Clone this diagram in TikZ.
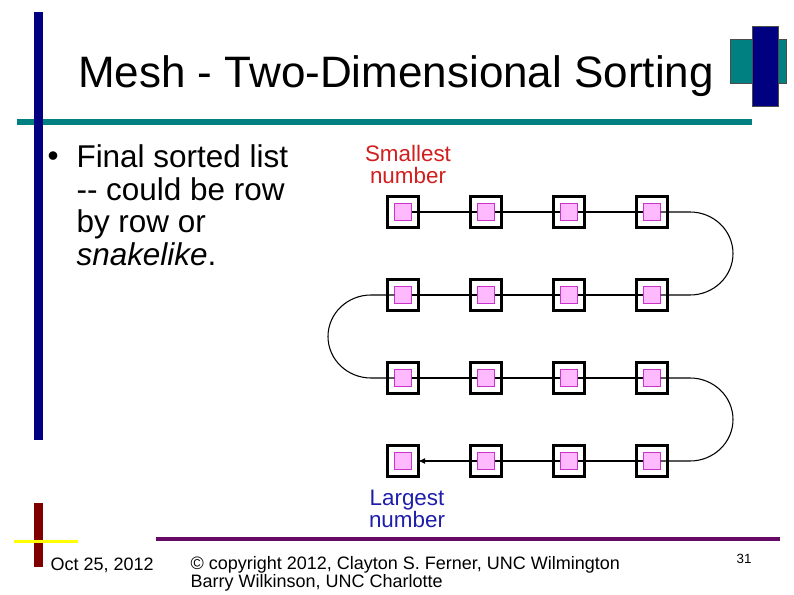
\documentclass[tikz,border=0pt]{standalone}
\usepackage{xcolor}
\usepackage{fontspec}
\setmainfont{Liberation Sans}
\usetikzlibrary{positioning, arrows.meta}

\definecolor{slidenavy}{RGB}{0,0,128}
\definecolor{slideteal}{RGB}{0,128,128}
\definecolor{slidemaroon}{RGB}{128,0,0}
\definecolor{slideyellow}{RGB}{255,255,0}
\definecolor{slideplum}{RGB}{102,10,102}
\definecolor{pefill}{RGB}{255,185,255}
\definecolor{peedge}{RGB}{204,51,204}
\definecolor{lowred}{RGB}{210,30,30}
\definecolor{highblue}{RGB}{30,30,170}

\tikzset{
  peframe/.style={draw=black, line width=2pt, minimum size=23.5pt, inner sep=0pt},
  pe/.style={draw=peedge, fill=pefill, line width=0.8pt, minimum size=12.2pt, inner sep=0pt,
    label={[peframe]center:{}}},
  tag/.style={align=center, anchor=north, inner sep=0pt, font=\fontsize{16.8}{16.5}\selectfont},
  footer/.style={inner sep=0pt, font=\fontsize{13.5}{13.5}\selectfont}
}

\begin{document}
\begin{tikzpicture}[x=0.75pt, y=-0.75pt, node distance=62.25pt, on grid, line width=0.8pt]
        \useasboundingbox (0,0) rectangle (794,595);

        % slide frame
        \fill[slideteal] (17,119) rectangle (752,125);
        \fill[slidenavy] (34,12) rectangle (43,440);
        \filldraw[fill=slideteal, draw=black!70, line width=0.4pt] (730,39) rectangle (786,83);
        \filldraw[fill=slidenavy, draw=black!70, line width=0.4pt] (752,26) rectangle (778,106);
        \fill[slidemaroon] (34,503) rectangle (43,567);
        \fill[slideyellow] (14,540) rectangle (78,543);
        \fill[slideplum] (156,537) rectangle (780,541);

        \node[anchor=base, inner sep=0pt, font=\fontsize{33}{40}\selectfont] (title) at (396,88) {Mesh - Two-Dimensional Sorting};

        \node[anchor=base west, inner sep=0pt, font=\fontsize{23.6}{24.4}\selectfont] (dot) at (47,167) {•};
        \node[anchor=north west, align=left, inner sep=0pt, font=\fontsize{23.6}{24.4}\selectfont] (point) at (76,144.5)
            {Final sorted list\\{-}{-} could be row\\by row or\\\textit{snakelike}.};

        % mesh
        \node[pe] (c11) at (403,212) {};
        \node[pe] (c12) [right=of c11] {};
        \node[pe] (c13) [right=of c12] {};
        \node[pe] (c14) [right=of c13] {};
        \node[pe] (c21) [below=of c11] {};
        \node[pe] (c22) [right=of c21] {};
        \node[pe] (c23) [right=of c22] {};
        \node[pe] (c24) [right=of c23] {};
        \node[pe] (c31) [below=of c21] {};
        \node[pe] (c32) [right=of c31] {};
        \node[pe] (c33) [right=of c32] {};
        \node[pe] (c34) [right=of c33] {};
        \node[pe] (c41) [below=of c31] {};
        \node[pe] (c42) [right=of c41] {};
        \node[pe] (c43) [right=of c42] {};
        \node[pe] (c44) [right=of c43] {};

        \coordinate (e1) at (690,212);
        \coordinate (w2) at (371,295);
        \coordinate (e3) at (690,378);

        \path[draw]
        (c11) edge (c12)
        (c12) edge (c13)
        (c13) edge (c14)
        (c21) edge (c22)
        (c22) edge (c23)
        (c23) edge (c24)
        (c31) edge (c32)
        (c32) edge (c33)
        (c33) edge (c34)
        (c43) edge (c42)
        (c44) edge (c43);

        \draw (c14) -- (e1) arc[start angle=-90, end angle=90, x radius=43, y radius=41.5] -- (c24);
        \draw (c21) -- (w2) arc[start angle=270, end angle=90, x radius=43, y radius=41.5] -- (c31);
        \draw (c34) -- (e3) arc[start angle=-90, end angle=90, x radius=43, y radius=41.5] -- (c44);
        \draw[-{Latex[length=5pt, width=4.5pt]}, shorten >=5pt] (c42) -- (c41);

        \node[tag, text=lowred] (smallest) at (408,145) {Smallest\\number};
        \node[tag, text=highblue] (largest) at (407,490) {Largest\\number};

        % footer
        \node[footer, anchor=base west] (date) at (50,571) {Oct 25, 2012};
        \node[footer, anchor=north west, align=left] (credit) at (190,556)
            {© copyright 2012, Clayton S. Ferner, UNC Wilmington\\Barry Wilkinson, UNC Charlotte};
        \node[anchor=base, inner sep=0pt, font=\fontsize{10}{12}\selectfont] (page) at (744,564) {31};
    \end{tikzpicture}
\end{document}
